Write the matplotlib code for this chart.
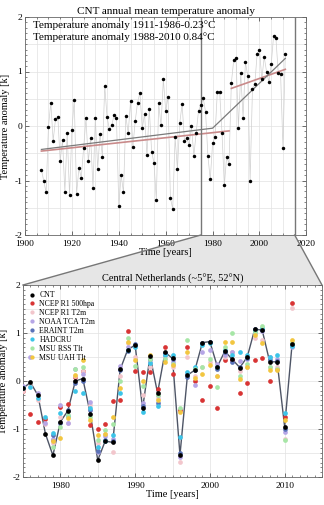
import numpy as np
import matplotlib
matplotlib.use("Agg")
import matplotlib.pyplot as plt
from matplotlib.patches import Polygon
from matplotlib.ticker import MultipleLocator

plt.rcParams['font.family'] = ['Liberation Serif', 'DejaVu Serif']
plt.rcParams['mathtext.fontset'] = 'stix'

# ---------------- data: top panel (CNT annual mean anomaly) ----------------
top_years = list(range(1907, 2012))
top_anom = [-0.80, -1.01, -1.22, -0.02, 0.43, -0.27, 0.12, 0.17, -0.64, -0.26,
            -1.21, -0.13, -1.27, -0.07, 0.48, -1.24, -0.77, -0.95, -0.40, 0.14,
            -0.65, -0.22, -1.14, 0.15, -0.78, -0.15, -0.56, 0.74, 0.16, -0.06,
            0.02, 0.20, 0.15, -1.46, -0.90, -1.22, 0.18, -0.13, 0.45, -0.38,
            0.09, 0.43, 0.61, -0.04, 0.22, -0.54, 0.32, -0.47, -0.68, -1.35,
            0.42, 0.01, 0.86, 0.28, 0.54, -1.32, -1.52, -0.21, -0.79, 0.06,
            0.40, -0.27, -0.22, -0.35, 0.00, -0.55, -0.12, 0.28, 0.39, 0.51,
            0.26, -0.55, -0.98, -0.32, -0.21, 0.62, 0.63, -0.12, -1.09, -0.56,
            -0.69, 0.79, 1.21, 1.24, -0.03, 0.97, 0.15, 1.17, 0.92, -1.00,
            0.68, 0.77, 1.33, 1.39, 0.86, 1.27, 1.00, 0.81, 1.13, 1.65,
            1.61, 0.97, 0.95, -0.40, 1.33]

# piecewise trend (gray) and period-mean trend lines (red)
pw_years = [1907, 1980, 2011]
pw_vals = [-0.43, -0.04, 1.24]
red1_years = [1907, 1987]
red1_vals = [-0.46, -0.09]
red2_years = [1988, 2011]
red2_vals = [0.69, 1.04]
zoom_years = [1975, 2015]

# ---------------- data: bottom panel (1975-2011) ----------------
years = list(range(1975, 2012))
nan = np.nan
cnt = [-0.15, -0.03, -0.30, -1.10, -1.55, -0.85, -0.62, 0.00, 0.05, -0.68,
       -1.65, -1.25, -1.28, 0.24, 0.65, 0.75, -0.57, 0.52, -0.25, 0.60,
       0.47, -1.54, 0.12, 0.23, 0.80, 0.82, 0.30, 0.62, 0.45, 0.28,
       0.50, 1.08, 1.06, 0.40, 0.40, -0.95, 0.77]
ncep500 = [-0.20, -0.69, -0.85, -0.80, -1.22, -0.55, -0.48, 0.09, 0.20, -0.92,
           -0.99, -0.90, -0.41, -0.40, 1.05, 0.20, 0.19, 0.19, -0.17, 0.71,
           0.15, -0.60, 0.71, 0.00, -0.40, -0.10, -0.57, 0.44, 0.44, -0.26,
           -0.05, 0.44, 0.47, 0.00, 0.25, -0.75, 1.62]
ncept2m = [-0.20, -0.10, -0.40, -0.90, -1.30, -0.74, -0.88, 0.10, 0.20, -0.50,
           -1.30, -1.10, -1.47, 0.10, 0.80, 0.50, -0.30, 0.30, -0.35, 0.50,
           0.30, -1.68, 0.50, 0.10, 0.30, 0.40, 0.10, 0.50, 0.60, 0.20,
           0.30, 0.90, 0.85, 0.30, 0.30, -1.20, 1.52]
noaa = [-0.10, 0.50, -0.26, -0.88, -1.20, -0.50, -0.88, 0.26, 0.15, -0.43,
        -1.48, -1.15, -1.20, 0.32, 0.70, 0.72, -0.45, 0.40, -0.30, 0.55,
        0.40, -1.58, 0.15, -0.08, 0.60, 0.65, 0.35, 0.55, 0.60, 0.42,
        0.45, 1.00, 1.05, 0.50, 0.45, -1.06, 0.70]
eraint = [nan, nan, nan, nan, -1.13, -0.87, -0.60, -0.05, 0.00, -0.60,
          -1.46, -1.22, -1.26, 0.22, 0.62, 0.78, -0.53, 0.45, -0.45, 0.58,
          0.45, -1.50, 0.09, 0.23, 0.80, 0.82, 0.25, 0.60, 0.40, 0.30,
          0.48, 1.08, 1.07, 0.44, 0.42, -1.00, 0.75]
hadcru = [-0.15, -0.13, -0.36, -0.74, -1.09, -0.66, -0.73, -0.20, -0.26, -0.57,
          -1.37, -1.24, -1.13, -0.25, 0.65, 0.71, -0.64, 0.37, -0.53, 0.54,
          0.54, -1.16, 0.19, 0.30, 0.75, 0.80, 0.30, 0.65, 0.55, 0.61,
          0.55, 1.05, 1.10, 0.50, 0.55, -0.67, 0.72]
rss = [nan, nan, nan, nan, -1.37, -0.95, -0.70, 0.26, 0.30, -0.75,
       -1.23, -1.03, -0.90, 0.00, 0.89, 0.32, -0.10, 0.45, -0.30, 0.45,
       0.35, -0.57, 0.85, 0.26, 0.30, 0.45, -0.12, 0.70, 1.00, 0.10,
       0.35, 1.03, 1.14, 0.30, 0.26, -1.22, 0.80]
uah = [nan, nan, nan, nan, -1.26, -1.19, -0.78, 0.12, 0.44, -0.81,
       -1.13, -1.10, -0.76, -0.15, 0.82, 0.44, -0.01, 0.54, -0.40, 0.40,
       0.33, -0.64, 0.60, 0.06, 0.15, 0.33, 0.10, 0.82, 0.82, 0.05,
       0.30, 0.95, 0.80, 0.23, 0.23, -0.81, 0.85]

series_names = ["CNT", "NCEP R1 500hpa", "NCEP R1 T2m", "NOAA TCA T2m",
                "ERAINT T2m", "HADCRU", "MSU RSS Tlt", "MSU UAH Tlt"]
series_vals = [cnt, ncep500, ncept2m, noaa, eraint, hadcru, rss, uah]
series_cols = ["#000000", "#d83434", "#f2c6cc", "#b6a6e6", "#5a72b8",
               "#3cc4e8", "#a6e6a6", "#f2c640"]

# ---------------- figure ----------------
W, H = 324, 505
fig = plt.figure(figsize=(W / 100, H / 100), dpi=100)

ax1 = fig.add_axes([25 / W, 1 - 235 / H, 281.4 / W, 218 / H])
ax2 = fig.add_axes([23 / W, 1 - 477 / H, 299 / W, 192 / H])

gridc = "#e2e2e2"
for ax in (ax1, ax2):
    ax.tick_params(which='both', direction='in', top=True, right=True,
                   labelsize=6.8, pad=2, color='#555555')
    ax.tick_params(axis='x', which='both', pad=3.5)
    ax.tick_params(which='major', length=3, width=0.6)
    ax.tick_params(which='minor', length=1.6, width=0.5)
    for s in ax.spines.values():
        s.set_linewidth(0.6)
        s.set_color('#666666')
    ax.set_axisbelow(True)

# top panel
ax1.set_xlim(1900, 2020)
ax1.set_ylim(-2, 2)
ax1.xaxis.set_major_locator(MultipleLocator(20))
ax1.xaxis.set_minor_locator(MultipleLocator(5))
ax1.yaxis.set_major_locator(MultipleLocator(1))
ax1.yaxis.set_minor_locator(MultipleLocator(0.1))
ax1.set_yticks([-2, -1, 0, 1, 2])
ax1.set_yticklabels(["-2", "-1", "0", "1", "2"])
for gx in range(1905, 2020, 5):
    ax1.axvline(gx, color=gridc, lw=0.5, zorder=0)
for gy in np.arange(-1.5, 2.0, 0.5):
    ax1.axhline(gy, color=gridc, lw=0.5, zorder=0)
ax1.plot(top_years, top_anom, color="#cfcfcf", lw=0.5, zorder=1)
ax1.plot(top_years, top_anom, 'o', color='black', ms=2.5, mec='none', zorder=4)
ax1.plot(red1_years, red1_vals, color="#c98a8a", lw=1.2, zorder=2)
ax1.plot(red2_years, red2_vals, color="#c98a8a", lw=1.2, zorder=2)
ax1.plot(pw_years, pw_vals, color="#7a7a7a", lw=0.9, zorder=3)
for zy in zoom_years:
    ax1.axvline(zy, color="#777777", lw=1.0, zorder=3)
ax1.set_title("CNT annual mean temperature anomaly", fontsize=8, pad=2)
ax1.set_xlabel("Time [years]", fontsize=7.5, labelpad=0)
ax1.set_ylabel("Temperature anomaly [k]", fontsize=7.5, labelpad=3)
ax1.text(0.028, 0.962, "Temperature anomaly 1911-1986-0.23°C",
         transform=ax1.transAxes, fontsize=8, va='center', ha='left', zorder=5)
ax1.text(0.028, 0.907, "Temperature anomaly 1988-2010 0.84°C",
         transform=ax1.transAxes, fontsize=8, va='center', ha='left', zorder=5)

# bottom panel
ax2.set_xlim(1975, 2015)
ax2.set_ylim(-2, 2)
ax2.xaxis.set_major_locator(MultipleLocator(10))
ax2.xaxis.set_minor_locator(MultipleLocator(1))
ax2.yaxis.set_major_locator(MultipleLocator(1))
ax2.yaxis.set_minor_locator(MultipleLocator(0.1))
ax2.set_yticks([-2, -1, 0, 1, 2])
ax2.set_yticklabels(["-2", "-1", "0", "1", "2"])
for gx in range(1980, 2015, 5):
    ax2.axvline(gx, color=gridc, lw=0.5, zorder=0)
for gy in np.arange(-1.5, 2.0, 0.5):
    ax2.axhline(gy, color=gridc, lw=0.5, zorder=0)

ax2.plot(years, cnt, color="#4e5566", lw=1.0, zorder=2)
handles = []
for name, vals, col in zip(series_names, series_vals, series_cols):
    z = 4 if name == "CNT" else 3
    h, = ax2.plot(years, vals, 'o', color=col, ms=3.4, mec='none',
                  zorder=z, label=name)
    handles.append(h)
leg = ax2.legend(handles=handles, loc='upper left', frameon=False,
                 fontsize=5.6, handlelength=0.8, handletextpad=0.5,
                 labelspacing=0.12, borderaxespad=0.4, markerscale=0.9)
ax2.set_title("Central Netherlands (~5°E, 52°N)", fontsize=7.5, pad=2)
ax2.set_xlabel("Time [years]", fontsize=7.5, labelpad=0)
ax2.set_ylabel("Temperature anomaly [k]", fontsize=7.5, labelpad=3)

# zoom connector: gray trapezoid between panels
fig.canvas.draw()
inv = fig.transFigure.inverted()
p_tl = inv.transform(ax1.transData.transform((zoom_years[0], -2)))
p_tr = inv.transform(ax1.transData.transform((zoom_years[1], -2)))
p_bl = inv.transform(ax2.transAxes.transform((0, 1)))
p_br = inv.transform(ax2.transAxes.transform((1, 1)))
poly = Polygon([p_tl, p_tr, p_br, p_bl], closed=True, transform=fig.transFigure,
               facecolor="#e6e6e6", edgecolor="none", zorder=-5)
fig.patches.append(poly)
fig.lines.append(plt.Line2D([p_tl[0], p_bl[0]], [p_tl[1], p_bl[1]],
                            transform=fig.transFigure, color="#777777", lw=1.0))
fig.lines.append(plt.Line2D([p_tr[0], p_br[0]], [p_tr[1], p_br[1]],
                            transform=fig.transFigure, color="#777777", lw=1.0))

fig.savefig("out.png", dpi=100)
